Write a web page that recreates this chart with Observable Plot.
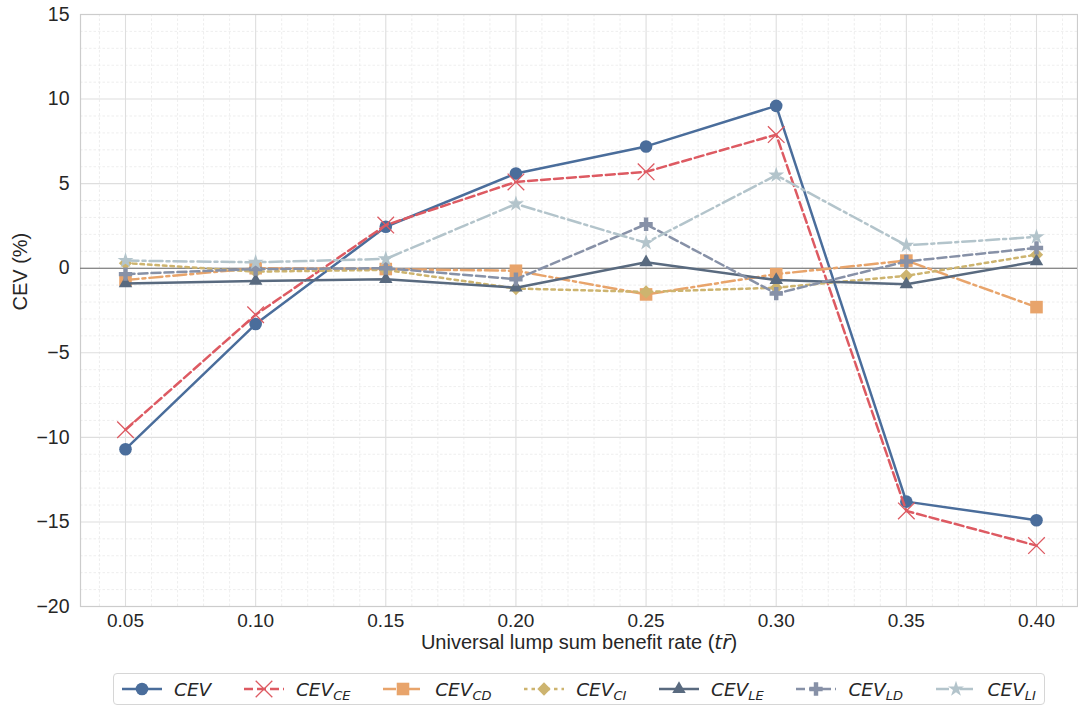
<!DOCTYPE html>
<html><head><meta charset="utf-8">
<script src="https://cdn.jsdelivr.net/npm/d3@7"></script>
<script src="https://cdn.jsdelivr.net/npm/@observablehq/plot@0.6"></script>
<style>
body{margin:0;background:#fff;font-family:"Liberation Sans",Arial,sans-serif;}
#wrap{position:relative;width:1078px;height:708px;}
#legend{position:absolute;left:113px;top:673px;width:932px;height:32px;border:1px solid #d6d6d6;border-radius:4px;display:flex;align-items:center;justify-content:space-between;padding:0 8px 0 8px;box-sizing:border-box;font-family:"DejaVu Sans",sans-serif;font-style:italic;font-size:18.5px;color:#262626;}
.item{display:flex;align-items:center;white-space:nowrap;}
.item svg{margin-right:12px;}
.item sub{font-size:13px;vertical-align:-4px;line-height:0;}
</style></head><body><div id="wrap"></div>
<script>
// ---- data ----
const rates = [0.05, 0.10, 0.15, 0.20, 0.25, 0.30, 0.35, 0.40];
const cev   = [-10.7, -3.3, 2.45, 5.6, 7.2, 9.6, -13.8, -14.9];
const cevCE = [-9.55, -2.75, 2.55, 5.1, 5.7, 7.9, -14.35, -16.4];
const cevCD = [-0.7, 0.0, -0.05, -0.15, -1.55, -0.35, 0.45, -2.3];
const cevCI = [0.3, -0.2, -0.1, -1.2, -1.4, -1.15, -0.45, 0.8];
const cevLE = [-0.9, -0.75, -0.65, -1.15, 0.35, -0.7, -0.95, 0.4];
const cevLD = [-0.35, -0.05, 0.0, -0.65, 2.6, -1.5, 0.4, 1.2];
const cevLI = [0.45, 0.35, 0.55, 3.8, 1.5, 5.5, 1.35, 1.85];
const seriesSubs = ["", "CE", "CD", "CI", "LE", "LD", "LI"];
const seriesValues = [cev, cevCE, cevCD, cevCI, cevLE, cevLD, cevLI];
const xTicks = [0.05, 0.10, 0.15, 0.20, 0.25, 0.30, 0.35, 0.40];
const yTicks = [-20, -15, -10, -5, 0, 5, 10, 15];
const yLabel = "CEV (%)";
const xLabelMain = "Universal lump sum benefit rate (";
const xLabelMath = "tr\u0304";

// ---- styles ----
const colors = ["#4a6d9b", "#dd5a62", "#e8a46b", "#cdb46f", "#596a7f", "#8791a7", "#b3c4cb"];
const symbols = ["circle", "times", "square", "diamond2", "triangle", "cross", "star"];
const d3Symbols = [d3.symbolCircle, d3.symbolTimes, d3.symbolSquare, d3.symbolDiamond2, d3.symbolTriangle, d3.symbolCross, d3.symbolStar];
const dashes = [null, "9,4", "13,4,3,4", "3.5,4", null, "9,4", "13,4,3,4"];
const radii = [6.3, 7.6, 7.1, 6, 5, 5.6, 5];

const tables = seriesValues.map((vals, i) => rates.map((r, j) => ({rate: r, value: vals[j], s: i})));

const xMinor = d3.range(4, 42).map(v => v / 100).filter(v => Math.round(v * 100) % 5 !== 0);
const yMinor = d3.range(-20, 16).filter(v => v % 5 !== 0);

const marks = [
  Plot.ruleX(xMinor, {stroke: "#eaeaea", strokeWidth: 0.8, strokeDasharray: "2.5,2"}),
  Plot.ruleY(yMinor, {stroke: "#eaeaea", strokeWidth: 0.8, strokeDasharray: "2.5,2"}),
  Plot.ruleX(xTicks, {stroke: "#dedede", strokeWidth: 1.1}),
  Plot.ruleY(yTicks, {stroke: "#dedede", strokeWidth: 1.1}),
  Plot.frame({stroke: "#cccccc", strokeWidth: 1.2}),
  Plot.ruleY([0], {stroke: "#6b6b6b", strokeWidth: 1.1}),
  Plot.axisX({ticks: xTicks, tickFormat: ".2f", tickSize: 0, tickPadding: 7, label: null, fontSize: 19, fill: "#262626"}),
  Plot.axisY({ticks: yTicks, tickSize: 0, tickPadding: 11, label: null, fontSize: 19.5, fill: "#262626"}),
];
tables.forEach((t, i) => {
  marks.push(Plot.line(t, {x: "rate", y: "value", stroke: colors[i], strokeWidth: 2.5, strokeDasharray: dashes[i] || undefined}));
  if (symbols[i] === "times") {
    marks.push(Plot.dot(t, {x: "rate", y: "value", symbol: symbols[i], r: radii[i], stroke: colors[i], strokeWidth: 1.3, fill: "none"}));
  } else {
    marks.push(Plot.dot(t, {x: "rate", y: "value", symbol: symbols[i], r: radii[i], fill: colors[i], stroke: "none"}));
  }
});
marks.push(Plot.text([yLabel], {frameAnchor: "left", dx: -60, rotate: -90, fontSize: 20, fill: "#262626"}));
marks.push(Plot.text(["xlabel"], {frameAnchor: "bottom", dy: 42, fontSize: 20, fill: "#262626", text: d => xLabelMain + xLabelMath + ")"}));

const chart = Plot.plot({
  width: 1078, height: 660,
  marginLeft: 80, marginRight: 1, marginTop: 14, marginBottom: 54,
  style: {fontFamily: "'Liberation Sans', Arial, sans-serif", fontSize: "19px", color: "#262626", background: "#fff"},
  x: {domain: [0.032711, 0.415752]},
  y: {domain: [-20, 15]},
  marks
});
document.getElementById("wrap").appendChild(chart);

// italic math part of x label
d3.select(chart).selectAll("text").filter(function(){ return this.textContent.startsWith("Universal"); }).each(function(){
  const t = d3.select(this);
  t.text(null);
  t.append("tspan").text(xLabelMain);
  t.append("tspan").attr("font-family", "DejaVu Sans").attr("font-style", "italic").text(xLabelMath);
  t.append("tspan").text(")");
});

// legend
const legend = d3.select("#wrap").append("div").attr("id", "legend");
seriesSubs.forEach((sub, i) => {
  const it = legend.append("div").attr("class", "item");
  const s = it.append("svg").attr("width", 40).attr("height", 20);
  s.append("line").attr("x1", 0).attr("x2", 40).attr("y1", 10).attr("y2", 10)
    .attr("stroke", colors[i]).attr("stroke-width", 2.5).attr("stroke-dasharray", dashes[i]);
  const p = s.append("path").attr("transform", "translate(20,10)")
    .attr("d", d3.symbol(d3Symbols[i], Math.PI * radii[i] * radii[i])());
  if (symbols[i] === "times") p.attr("fill", "none").attr("stroke", colors[i]).attr("stroke-width", 1.3);
  else p.attr("fill", colors[i]);
  const lab = it.append("span");
  lab.append("span").text("CEV");
  if (sub) lab.append("sub").text(sub);
});
</script>
</body></html>
